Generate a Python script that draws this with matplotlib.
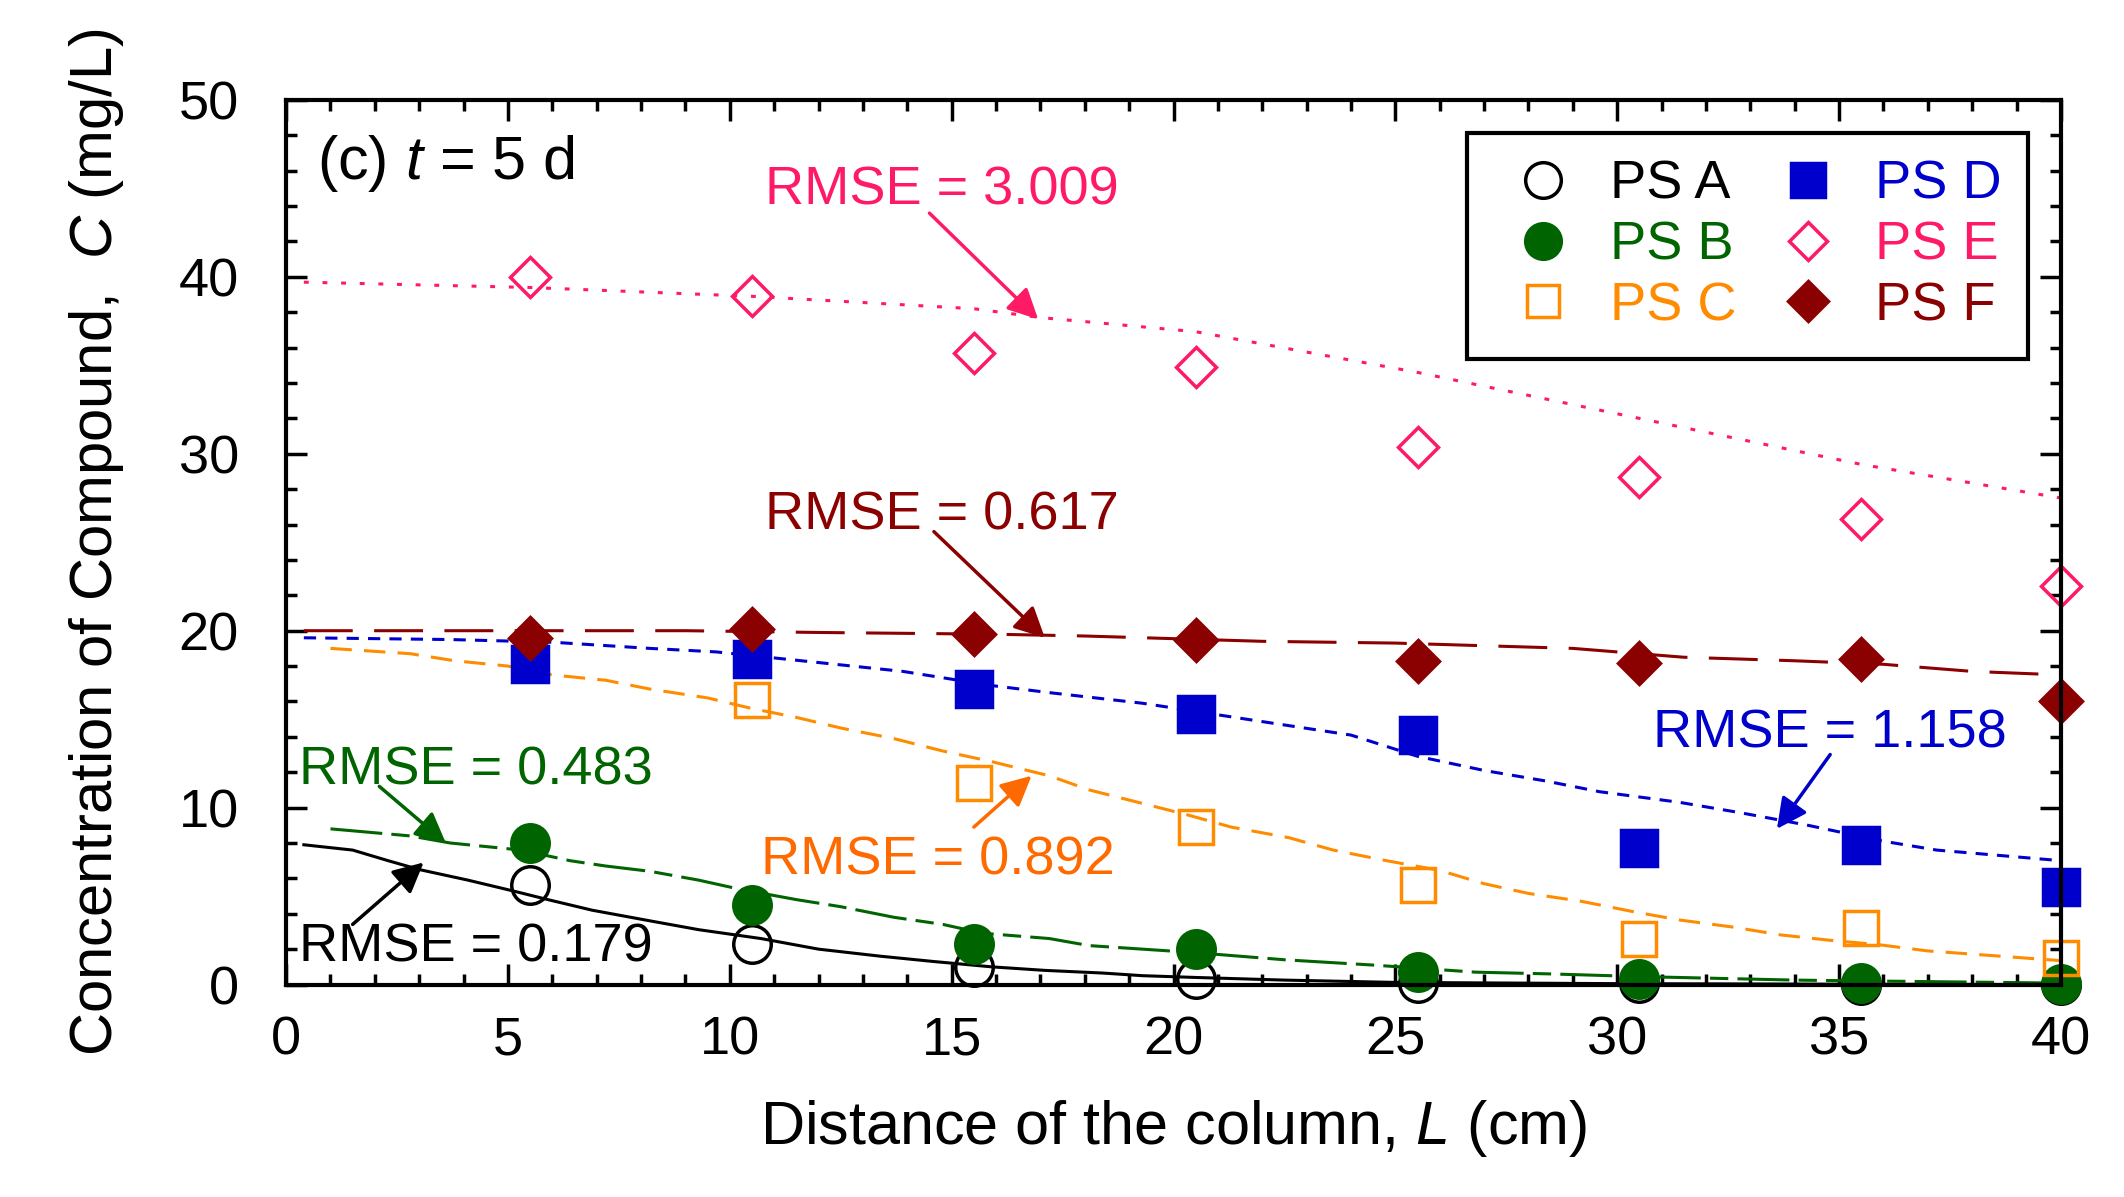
import matplotlib
matplotlib.use("Agg")
import matplotlib.pyplot as plt
from matplotlib.ticker import MultipleLocator

plt.rcParams["font.family"] = ["Liberation Sans", "DejaVu Sans"]
plt.rcParams["mathtext.fontset"] = "custom"
plt.rcParams["mathtext.rm"] = "Liberation Sans"
plt.rcParams["mathtext.it"] = "Liberation Sans:italic"

# measured points (distance along the column, cm)
x_obs = [5.5, 10.5, 15.5, 20.5, 25.5, 30.5, 35.5, 40]
ps_a = [5.6, 2.3, 1.0, 0.3, 0.1, 0.1, 0.0, 0.0]
ps_b = [8.0, 4.5, 2.3, 2.0, 0.7, 0.3, 0.1, 0.05]
ps_c = [18.1, 16.1, 11.4, 8.9, 5.6, 2.6, 3.2, 1.5]
ps_d = [18.1, 18.4, 16.7, 15.3, 14.1, 7.7, 7.9, 5.5]
ps_e = [40.0, 38.9, 35.7, 34.9, 30.4, 28.7, 26.3, 22.5]
ps_f = [19.6, 20.1, 19.8, 19.5, 18.3, 18.2, 18.4, 16.0]

# model curves
xa = [0.4, 1.5, 2.3, 3.0, 4.1, 5.1, 5.9, 6.9, 8.2, 9.3, 10.7, 12.0, 13.4, 14.6,
      15.9, 17.1, 18.4, 19.3, 20.5, 22.5, 25, 30, 35, 40]
ya = [7.9, 7.6, 7.0, 6.5, 5.9, 5.3, 4.8, 4.2, 3.6, 3.1, 2.6, 2.0, 1.6, 1.3,
      1.0, 0.8, 0.65, 0.5, 0.4, 0.25, 0.12, 0.05, 0.02, 0.0]
xb = [1.0, 2.8, 3.7, 5.3, 6.4, 7.2, 8.2, 9.3, 10.2, 11.5, 12.5, 13.7, 14.8,
      15.7, 17.2, 18.1, 19.3, 20.5, 22.5, 24.5, 26.8, 28.5, 30.5, 34, 40]
yb = [8.8, 8.4, 8.0, 7.6, 7.0, 6.7, 6.4, 5.9, 5.4, 4.8, 4.4, 3.8, 3.4,
      2.9, 2.6, 2.2, 2.0, 1.8, 1.4, 1.1, 0.7, 0.6, 0.45, 0.25, 0.08]
xc = [1.0, 2.8, 3.8, 5.0, 6.0, 7.2, 8.2, 9.5, 10.5, 11.5, 12.5, 13.7, 14.8,
      15.9, 17.2, 18.1, 19.2, 20.3, 21.3, 22.6, 23.6, 24.8, 26.0, 27.0, 28.0,
      29.2, 30.4, 31.4, 32.6, 33.7, 34.8, 35.9, 37.0, 38.1, 40]
yc = [19.0, 18.7, 18.3, 18.0, 17.5, 17.2, 16.7, 16.2, 15.6, 15.1, 14.5, 13.9, 13.2,
      12.6, 11.8, 11.0, 10.3, 9.6, 8.9, 8.3, 7.6, 7.0, 6.45, 5.7, 5.15,
      4.7, 4.1, 3.65, 3.25, 2.8, 2.5, 2.25, 1.9, 1.7, 1.35]
xd = [0.4, 3.7, 6.0, 8.2, 9.7, 12.0, 13.9, 15.9, 17.2, 19.3, 21.9, 24.0, 25.5,
      27.0, 28.4, 29.6, 31.4, 32.8, 34.3, 36.0, 37.2, 40]
yd = [19.6, 19.5, 19.35, 19.0, 18.8, 18.2, 17.7, 16.9, 16.5, 15.9, 14.9, 14.1, 12.9,
      12.1, 11.5, 10.9, 10.3, 9.7, 9.0, 8.1, 7.6, 7.0]
xe = [0.4, 5.5, 10.5, 15.5, 17.0, 20.5, 25.5, 30.5, 35.5, 40]
ye = [39.7, 39.4, 38.9, 38.2, 37.7, 36.9, 34.6, 32.0, 29.4, 27.5]
xf = [0.4, 5.0, 9.0, 12.0, 16.0, 18.0, 22.0, 25.0, 29.0, 31.5, 34.0, 36.0, 38.0, 40]
yf = [20.0, 20.0, 20.0, 19.9, 19.8, 19.7, 19.4, 19.3, 19.0, 18.5, 18.3, 18.1, 17.7, 17.5]

C_A = "black"
C_B = "#006400"
C_C = "#FF8C00"
C_D = "#0000CD"
C_E = "#FF1A66"
C_F = "#8B0000"
C_CTXT = "#FF6A00"

fig = plt.figure(figsize=(21.24, 11.97), dpi=100)
ax = fig.add_axes([0.1347, 0.1775, 0.8356, 0.739])

lw = 2.2
ax.plot(xa, ya, color=C_A, lw=lw, ls="-")
ax.plot(xb, yb, color=C_B, lw=lw, ls=(0, (17, 3, 6, 3)))
ax.plot(xc, yc, color=C_C, lw=lw, ls=(0, (7, 4)))
ax.plot(xd, yd, color=C_D, lw=lw, ls=(0, (4, 3)))
ax.plot(xe, ye, color=C_E, lw=lw, ls=(0, (1.6, 4.5)))
ax.plot(xf, yf, color=C_F, lw=lw, ls=(0, (16, 7)))

ms = 27
mew = 2.5
ax.plot(x_obs, ps_a, "o", ms=ms, mfc="none", mec=C_A, mew=mew, label="PS A", clip_on=False)
ax.plot(x_obs, ps_b, "o", ms=ms, mfc=C_B, mec=C_B, mew=mew, label="PS B", clip_on=False)
ax.plot(x_obs, ps_c, "s", ms=ms - 2, mfc="none", mec=C_C, mew=mew, label="PS C", clip_on=False)
ax.plot(x_obs, ps_d, "s", ms=ms - 1, mfc=C_D, mec=C_D, mew=mew, label="PS D", clip_on=False)
ax.plot(x_obs, ps_e, "D", ms=ms - 7, mfc="none", mec=C_E, mew=mew, label="PS E", clip_on=False)
ax.plot(x_obs, ps_f, "D", ms=ms - 6, mfc=C_F, mec=C_F, mew=mew, label="PS F", clip_on=False)

ax.set_xlim(0, 40)
ax.set_ylim(0, 50)
ax.xaxis.set_major_locator(MultipleLocator(5))
ax.xaxis.set_minor_locator(MultipleLocator(1))
ax.yaxis.set_major_locator(MultipleLocator(10))
ax.yaxis.set_minor_locator(MultipleLocator(2))
ax.tick_params(which="both", direction="in", top=True, right=True, width=2.5)
ax.tick_params(which="major", length=15, labelsize=39)
ax.tick_params(which="minor", length=8)
ax.tick_params(axis="x", which="major", pad=22)
ax.tick_params(axis="y", which="major", pad=34)
for sp in ax.spines.values():
    sp.set_linewidth(3)

ax.set_xlabel(r"Distance of the column, $\mathit{L}$ (cm)", fontsize=44, labelpad=24)
ax.set_ylabel(r"Concentration of Compound,  $\mathit{C}$ (mg/L)", fontsize=43, labelpad=38)

ax.text(0.7, 46.4, r"(c) $\mathit{t}$ = 5 d", fontsize=44, ha="left", va="center")

fs = 39
arrow = dict(arrowstyle="-|>", lw=2.5, mutation_scale=46, shrinkA=0, shrinkB=0)
notes = [
    ("RMSE = 3.009", C_E, (10.8, 44.9), (14.5, 43.6), (16.95, 37.6)),
    ("RMSE = 0.617", C_F, (10.8, 26.5), (14.6, 25.6), (17.1, 19.6)),
    ("RMSE = 0.483", C_B, (0.3, 12.1), (2.1, 11.2), (3.6, 8.0)),
    ("RMSE = 0.179", C_A, (0.3, 2.1), (1.5, 3.4), (3.1, 6.9)),
    ("RMSE = 0.892", C_CTXT, (10.7, 7.0), (15.5, 8.9), (16.8, 11.8)),
    ("RMSE = 1.158", C_D, (30.8, 14.2), (34.8, 13.0), (33.6, 8.8)),
]
for txt, col, pos, start, tip in notes:
    ax.text(pos[0], pos[1], txt, color=col, fontsize=fs, ha="left", va="center")
    ax.annotate("", xy=tip, xytext=start,
                arrowprops=dict(arrow, color=col))

leg = ax.legend(ncol=2, loc="upper right", bbox_to_anchor=(0.9817, 0.963),
                borderaxespad=0, fontsize=39, frameon=True, fancybox=False,
                framealpha=1, edgecolor="black", handlelength=1.8,
                handletextpad=0.33, columnspacing=0.43, labelspacing=0.2,
                borderpad=0.5, markerscale=0.95)
leg.get_frame().set_linewidth(3)
for t, c in zip(leg.get_texts(), [C_A, C_B, C_C, C_D, C_E, C_F]):
    t.set_color(c)

fig.savefig("out.png", dpi=100)
